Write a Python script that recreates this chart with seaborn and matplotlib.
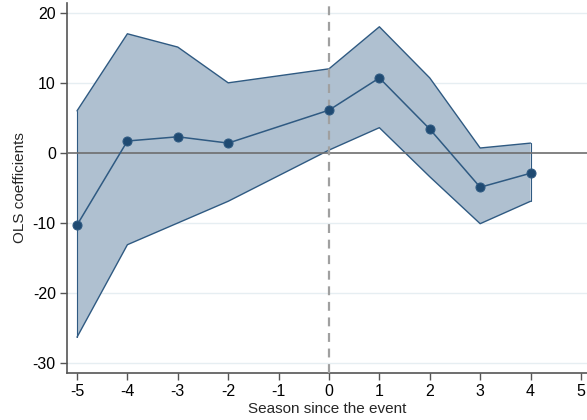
import numpy as np
import pandas as pd
import matplotlib
matplotlib.use("Agg")
import matplotlib.pyplot as plt
import seaborn as sns

# Event-study estimates (season -1 is the omitted reference period)
seasons = [-5, -4, -3, -2, 0, 1, 2, 3, 4]
coef = [-10.3, 1.7, 2.3, 1.4, 6.1, 10.7, 3.4, -4.9, -2.9]
ci_upper = [6.0, 17.0, 15.1, 10.0, 12.0, 18.0, 10.7, 0.7, 1.4]
ci_lower = [-26.3, -13.1, -10.0, -6.9, 0.4, 3.6, -3.4, -10.1, -6.9]
x_ticks = [-5, -4, -3, -2, -1, 0, 1, 2, 3, 4, 5]
y_ticks = [-30, -20, -10, 0, 10, 20]

df = pd.DataFrame({"season": seasons, "coef": coef,
                   "upper": ci_upper, "lower": ci_lower})

sns.set_style("white")
plt.rcParams["font.family"] = ["Liberation Sans", "DejaVu Sans"]

fig = plt.figure(figsize=(5.87, 4.20), dpi=100)
ax = fig.add_axes([0.114, 0.112, 0.886, 0.881])

line_col = "#2f5a82"
fill_col = "#afc0d0"

# horizontal grid
for yv in y_ticks:
    if yv != 0:
        ax.axhline(yv, color="#e6eef2", lw=1.0, zorder=0)

# confidence band
ax.fill_between(df["season"], df["lower"], df["upper"],
                facecolor=fill_col, edgecolor="none", zorder=1)
ax.plot(df["season"], df["upper"], color=line_col, lw=1.0, zorder=2)
ax.plot(df["season"], df["lower"], color=line_col, lw=1.0, zorder=2)
ax.plot([seasons[0], seasons[0]], [ci_lower[0], ci_upper[0]], color=line_col, lw=0.8, zorder=2)
ax.plot([seasons[-1], seasons[-1]], [ci_lower[-1], ci_upper[-1]], color=line_col, lw=0.8, zorder=2)

# reference lines
ax.axhline(0, color="#6e6e6e", lw=1.2, zorder=3)
ax.axvline(0, color="#a0a0a0", lw=1.6, ls=(0, (4, 3)), zorder=3)

# point estimates
sns.lineplot(data=df, x="season", y="coef", ax=ax, color=line_col, lw=1.1,
             marker="o", markersize=6.5, markeredgecolor=line_col,
             markerfacecolor="#1f4a72", zorder=4)

ax.set_xlim(-5.2, 5.12)
ax.set_ylim(-31.4, 21.4)
ax.set_xticks(x_ticks)
ax.set_yticks(y_ticks)
ax.set_xticklabels([str(t) for t in x_ticks], fontsize=11.5)
ax.set_yticklabels([str(t) for t in y_ticks], fontsize=11.5)
ax.set_xlabel("Season since the event", fontsize=11, labelpad=2)
ax.set_ylabel("OLS coefficients", fontsize=11, labelpad=4)

for side in ["top", "right"]:
    ax.spines[side].set_visible(False)
for side in ["left", "bottom"]:
    ax.spines[side].set_color("#555555")
    ax.spines[side].set_linewidth(1.2)
ax.tick_params(axis="both", which="both", direction="out", length=5,
               width=1.0, color="#555555", labelcolor="#000000", pad=3,
               left=True, bottom=True)

fig.savefig("out.png", dpi=100)
